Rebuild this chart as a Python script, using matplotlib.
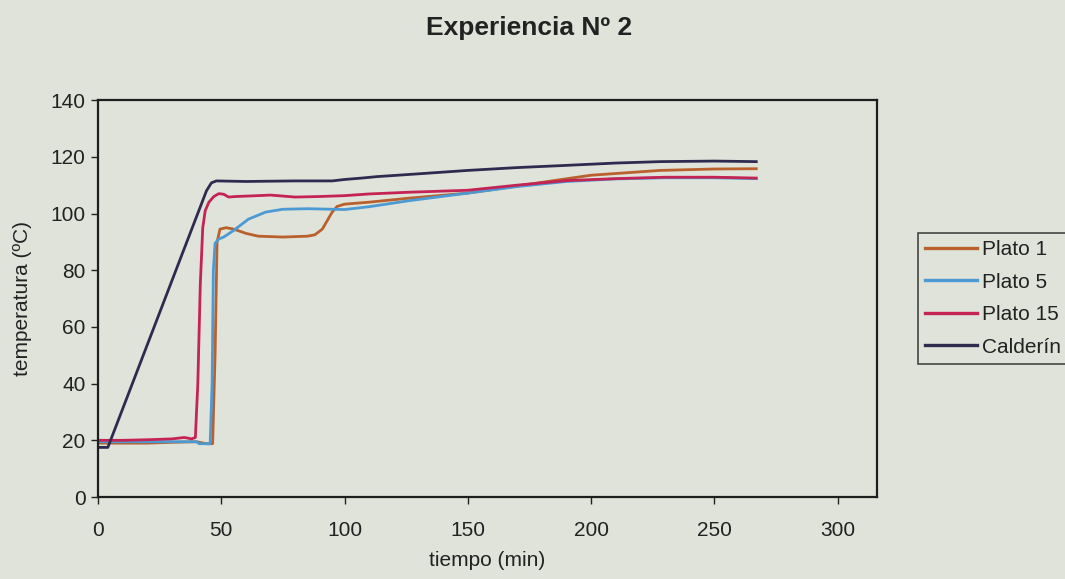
import matplotlib.pyplot as plt

plt.rcParams['font.family'] = ['Liberation Sans', 'DejaVu Sans']

# Plato 1
t_p1 = [0, 10, 20, 30, 40, 44, 46.5, 47.5, 48.3, 49.5, 52, 55, 60, 65, 75, 85, 88, 91, 93, 95, 97,
        100, 110, 126, 150, 170, 188, 200, 228, 250, 267]
T_p1 = [19, 19, 19, 19.3, 19.5, 18.8, 18.8, 50, 90, 94.5, 95, 94.5, 93, 92, 91.7, 92, 92.5, 94.5, 97.5,
        100.5, 102.5, 103.3, 104, 105.4, 107.2, 109.7, 112, 113.5, 115.2, 115.7, 115.8]

# Plato 5
t_p5 = [0, 20, 40, 41, 45.5, 46.3, 46.8, 47.5, 49, 51, 55, 61, 68, 75, 85, 95, 100, 110, 126,
        150, 170, 190, 210, 230, 250, 267]
T_p5 = [19.5, 19.5, 19.5, 18.8, 18.8, 40, 80, 89.5, 91, 91.7, 94, 98, 100.5, 101.5, 101.7, 101.5,
        101.4, 102.4, 104.5, 107.2, 109.5, 111.3, 112.2, 112.6, 112.6, 112.3]

# Plato 15
t_p15 = [0, 10, 20, 30, 35, 38, 39.5, 40.5, 41.5, 42.5, 43.5, 45, 47, 49, 51, 53, 56, 62, 70, 80,
         90, 100, 110, 126, 150, 170, 190, 210, 230, 250, 267]
T_p15 = [20, 20, 20.2, 20.5, 21, 20.5, 21, 40, 75, 95, 101, 104, 106, 107, 106.8, 105.8, 106, 106.2,
         106.5, 105.8, 106, 106.3, 106.9, 107.5, 108.2, 110, 111.6, 112.3, 112.8, 112.8, 112.5]

# Calderin
t_cal = [0, 4, 44, 46, 48, 60, 80, 95, 100, 107, 113, 130, 150, 170, 188, 210, 228, 250, 267]
T_cal = [17.5, 17.5, 108, 110.8, 111.5, 111.3, 111.5, 111.5, 112, 112.5, 113, 114, 115.2, 116.2,
         116.9, 117.8, 118.3, 118.5, 118.3]

labels = ['Plato 1', 'Plato 5', 'Plato 15', 'Calderín']
colors = ['#b9602c', '#4b9ad4', '#c42354', '#2f2a50']

bg = '#dfe3da'
fig = plt.figure(figsize=(10.65, 5.79), dpi=100, facecolor=bg)
ax = fig.add_axes([0.092, 0.1416, 0.7315, 0.6855])
ax.set_facecolor(bg)

series = [(t_p1, T_p1), (t_p5, T_p5), (t_p15, T_p15), (t_cal, T_cal)]
for (t, T), lab, c in zip(series, labels, colors):
    ax.plot(t, T, color=c, lw=2.0, label=lab)

ax.set_xlim(0, 316)
ax.set_ylim(0, 140)
ax.set_xticks(range(0, 301, 50))
ax.set_yticks(range(0, 141, 20))
ax.tick_params(labelsize=15, direction='out', length=5, width=1, colors='#222222', pad=12)
ax.tick_params(axis='y', pad=4)
for s in ax.spines.values():
    s.set_linewidth(1.6)
    s.set_color('#1e1e1e')

ax.set_xlabel('tiempo (min)', fontsize=15, labelpad=8, color='#222222')
ax.set_ylabel('temperatura (ºC)', fontsize=15, labelpad=13, color='#222222')
fig.suptitle('Experiencia Nº 2', fontsize=19, fontweight='bold', x=0.497, y=0.972, color='#222222')

leg = fig.legend(loc='upper left', bbox_to_anchor=(0.862, 0.598), fontsize=15, frameon=True,
                 fancybox=False, handlelength=2.5, handletextpad=0.2, labelspacing=0.65,
                 borderpad=0.35, borderaxespad=0)
leg.get_frame().set_edgecolor('#1e1e1e')
leg.get_frame().set_linewidth(1.2)
leg.get_frame().set_facecolor(bg)
for line in leg.get_lines():
    line.set_linewidth(2.4)
for txt in leg.get_texts():
    txt.set_color('#222222')

fig.savefig('out.png', dpi=100, facecolor=bg)
